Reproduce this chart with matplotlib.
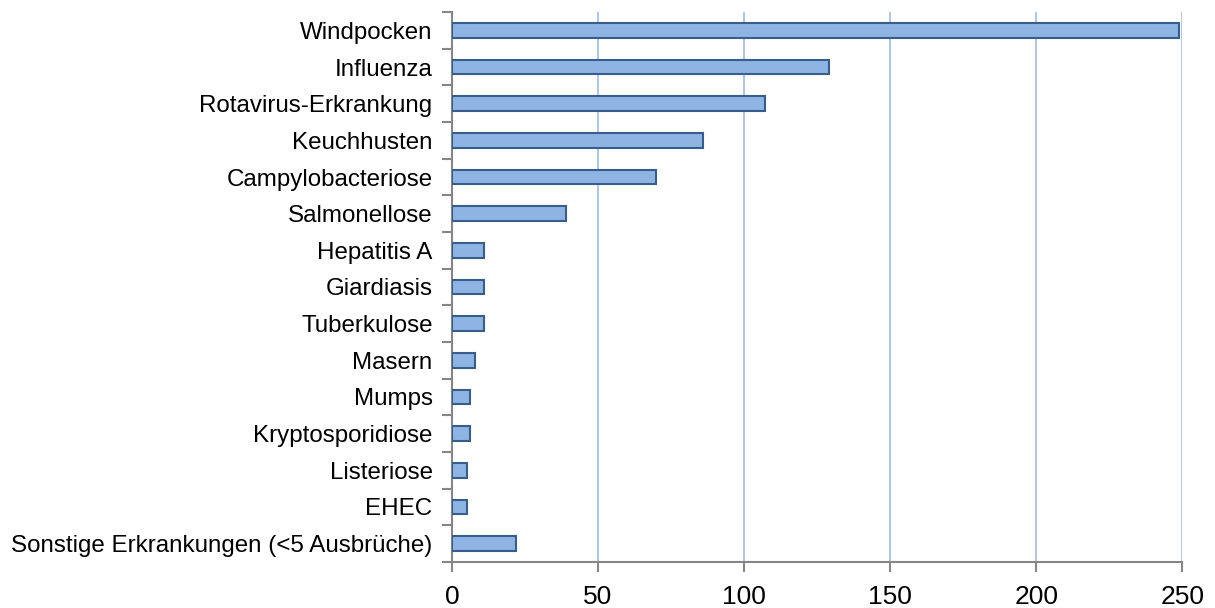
import matplotlib.pyplot as plt
import numpy as np

plt.rcParams['font.family'] = ['Liberation Sans', 'DejaVu Sans']

categories = ["Windpocken", "Influenza", "Rotavirus-Erkrankung", "Keuchhusten",
              "Campylobacteriose", "Salmonellose", "Hepatitis A", "Giardiasis",
              "Tuberkulose", "Masern", "Mumps", "Kryptosporidiose", "Listeriose",
              "EHEC", "Sonstige Erkrankungen (<5 Ausbrüche)"]
values = [249, 129, 107, 86, 70, 39, 11, 11, 11, 8, 6, 6, 5, 5, 22]
xticks = [0, 50, 100, 150, 200, 250]

fig = plt.figure(figsize=(12.15, 6.08), dpi=100)
ax = fig.add_axes([0.372, 0.076, 0.601, 0.904])

y = np.arange(len(categories))
ax.barh(y, values, height=0.4, color="#8EB4E3", edgecolor="#385D8A",
        linewidth=1.5, zorder=3)

ax.set_xlim(0, 250)
ax.set_ylim(len(categories) - 0.5, -0.5)
ax.set_xticks(xticks)
ax.set_xticklabels([str(t) for t in xticks], fontsize=19)
ax.set_yticks(y)
ax.set_yticklabels(categories, fontsize=17.4)
ax.tick_params(axis='y', length=0, pad=14)
# Excel-style ticks between the categories
ax.set_yticks(np.arange(-0.5, len(categories), 1), minor=True)
ax.tick_params(axis='y', which='minor', length=7, width=1.5, color="#868686")
ax.tick_params(axis='x', length=7, width=1.5, color="#868686", pad=10)

ax.grid(axis='x', color="#A7BFE8", linewidth=1.3, zorder=0)
for s in ['top', 'right']:
    ax.spines[s].set_visible(False)
for s in ['left', 'bottom']:
    ax.spines[s].set_color("#868686")
    ax.spines[s].set_linewidth(1.5)

fig.savefig("out.png", dpi=100)
